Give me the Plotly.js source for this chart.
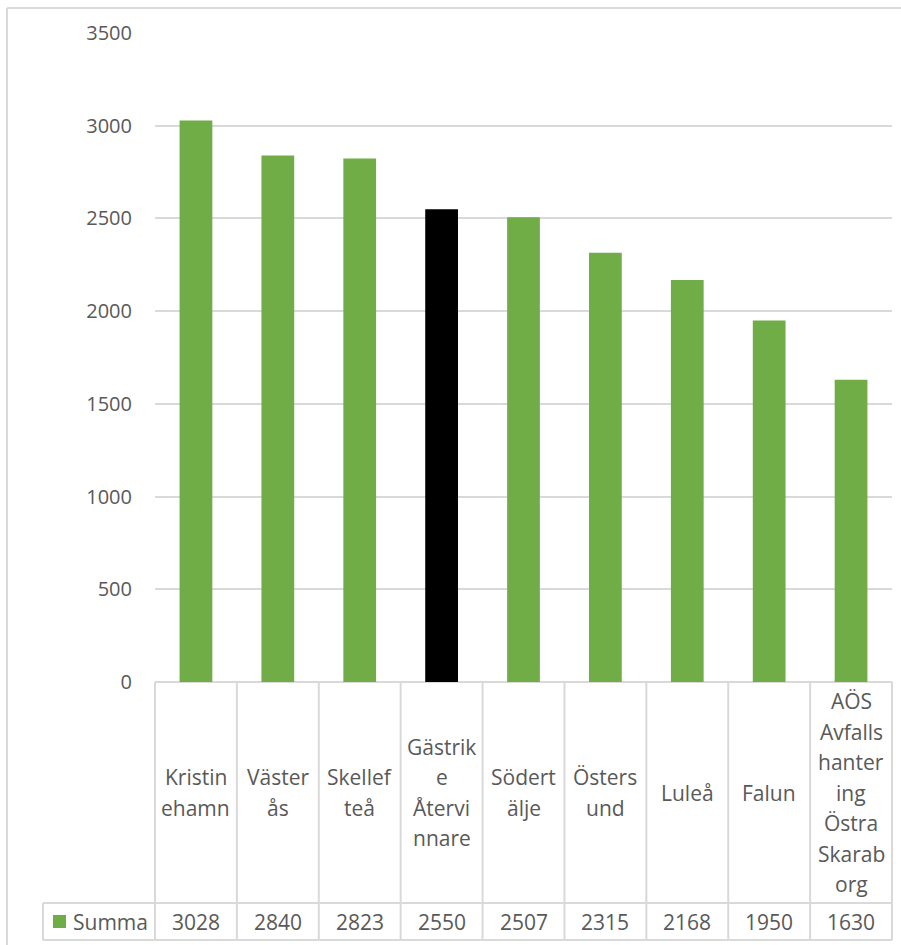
<!DOCTYPE html>
<html>
<head>
<meta charset="utf-8">
<script src="https://cdn.plot.ly/plotly-3.0.1.min.js"></script>
<style>
  html, body { margin: 0; padding: 0; background: #ffffff; }
  #chart { width: 901px; height: 945px; }
</style>
</head>
<body>
<div id="chart"></div>
<script>
// ---- data ----
const categories = ["Kristinehamn", "Västerås", "Skellefteå", "Gästrike Återvinnare", "Södertälje", "Östersund", "Luleå", "Falun", "AÖS Avfallshantering Östra Skaraborg"];
const tickLabels = [
  ["Kristin", "ehamn"],
  ["Väster", "ås"],
  ["Skellef", "teå"],
  ["Gästrik", "e", "Återvi", "nnare"],
  ["Södert", "älje"],
  ["Östers", "und"],
  ["Luleå"],
  ["Falun"],
  ["AÖS", "Avfalls", "hanter", "ing", "Östra", "Skarab", "org"]
];
const summa = [3028, 2840, 2823, 2550, 2507, 2315, 2168, 1950, 1630];
const seriesName = "Summa";
const highlighted = "Gästrike Återvinnare";
const yTicks = [0, 500, 1000, 1500, 2000, 2500, 3000, 3500];

// ---- styling / layout helpers ----
const W = 901, H = 945;
const GREEN = "#70ad47", BLACK = "#000000", GRID = "#d9d9d9", TXT = "#595959";
const FONT = "Open Sans, sans-serif";
const FS = 21;
const LW = 2;
const px = v => v / W;             // pixel x -> paper
const py = v => (H - v) / H;       // pixel y -> paper
const plotL = 155, plotR = 892, plotT = 33, plotB = 682;
const xd0 = px(plotL), xd1 = px(plotR);
const catRowBottom = 903, valRowBottom = 940, summaLeft = 43;
const lineH = 30.5;

const colors = categories.map(c => c === highlighted ? BLACK : GREEN);

const trace = {
  type: "bar",
  x: categories,
  y: summa,
  name: seriesName,
  marker: { color: colors },
  hoverinfo: "skip"
};

const shapes = [];
const annotations = [];
const n = categories.length;
const colX = k => xd0 + k * (xd1 - xd0) / n;

// outer chart border (left + top)
shapes.push({ type: "line", xref: "paper", yref: "paper", x0: px(7), x1: px(7), y0: py(8), y1: 0, line: { color: GRID, width: LW } });
shapes.push({ type: "line", xref: "paper", yref: "paper", x0: px(7), x1: 1, y0: py(8), y1: py(8), line: { color: GRID, width: LW } });

// table vertical lines
for (let k = 0; k <= n; k++) {
  shapes.push({ type: "line", xref: "paper", yref: "paper", x0: colX(k), x1: colX(k), y0: py(plotB), y1: py(valRowBottom), line: { color: GRID, width: LW } });
}
// summa cell left edge
shapes.push({ type: "line", xref: "paper", yref: "paper", x0: px(summaLeft), x1: px(summaLeft), y0: py(catRowBottom), y1: py(valRowBottom), line: { color: GRID, width: LW } });
// horizontal lines
shapes.push({ type: "line", xref: "paper", yref: "paper", x0: px(summaLeft), x1: colX(n), y0: py(catRowBottom), y1: py(catRowBottom), line: { color: GRID, width: LW } });
shapes.push({ type: "line", xref: "paper", yref: "paper", x0: px(summaLeft), x1: colX(n), y0: py(valRowBottom), y1: py(valRowBottom), line: { color: GRID, width: LW } });
// legend key square
shapes.push({ type: "rect", xref: "paper", yref: "paper", x0: px(53), x1: px(66), y0: py(928), y1: py(915), fillcolor: GREEN, line: { width: 0 } });

const catMid = (plotB + catRowBottom) / 2;
const valMid = (catRowBottom + valRowBottom) / 2;

categories.forEach((c, i) => {
  const lines = tickLabels[i];
  lines.forEach((t, j) => {
    const yc = catMid + (j - (lines.length - 1) / 2) * lineH;
    annotations.push({
      xref: "x", yref: "paper", x: c, y: py(yc), text: t, showarrow: false,
      xanchor: "center", yanchor: "middle", font: { family: FONT, size: FS, color: TXT }
    });
  });
  annotations.push({
    xref: "x", yref: "paper", x: c, y: py(valMid), text: String(summa[i]), showarrow: false,
    xanchor: "center", yanchor: "middle", font: { family: FONT, size: FS, color: TXT }
  });
});
annotations.push({
  xref: "paper", yref: "paper", x: px(71), y: py(valMid), text: seriesName, showarrow: false,
  xanchor: "left", yanchor: "middle", font: { family: FONT, size: FS, color: TXT }
});

const layout = {
  width: W, height: H,
  margin: { l: 0, r: 0, t: 0, b: 0, pad: 0 },
  paper_bgcolor: "#ffffff", plot_bgcolor: "#ffffff",
  showlegend: false,
  bargap: 0.6,
  font: { family: FONT, size: FS, color: TXT },
  xaxis: {
    domain: [xd0, xd1], type: "category", categoryarray: categories, categoryorder: "array",
    showticklabels: false, ticks: "", showgrid: false, zeroline: false,
    showline: false, fixedrange: true
  },
  yaxis: {
    domain: [py(plotB), py(plotT)], range: [0, 3500], tickvals: yTicks,
    ticktext: yTicks.map(String), showgrid: true, gridcolor: GRID, gridwidth: LW,
    zeroline: true, zerolinecolor: GRID, zerolinewidth: LW,
    showline: false, ticks: "", ticklabelstandoff: 22,
    tickfont: { family: FONT, size: 20, color: TXT }, fixedrange: true
  },
  shapes: shapes,
  annotations: annotations
};

Plotly.newPlot("chart", [trace], layout, { displayModeBar: false, staticPlot: true });
</script>
</body>
</html>
